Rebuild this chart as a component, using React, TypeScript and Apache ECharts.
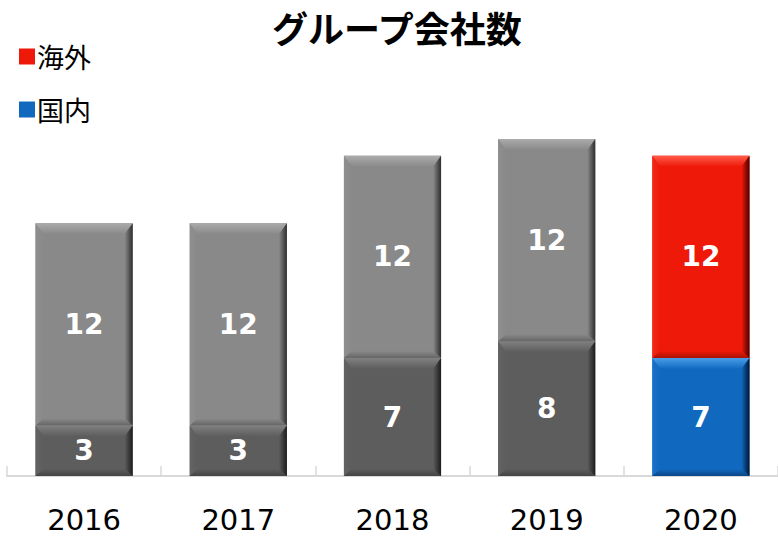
import React, { useEffect, useRef } from "react";
import * as echarts from "echarts";

const years = ["2016", "2017", "2018", "2019", "2020"];
const domestic = [3, 3, 7, 8, 7]; // 国内
const overseas = [12, 12, 12, 12, 12]; // 海外
const seriesNames = ["海外", "国内"];
const highlightIndex = 4;

type Palette = { base: string; light: string; dark: string; bottom: string; left: string };

const palGrayTop: Palette = { base: "#898989", light: "#ababab", dark: "#2e2e2e", bottom: "#666666", left: "#8f8f8f" };
const palGrayBottom: Palette = { base: "#5d5d5d", light: "#808080", dark: "#1c1c1c", bottom: "#444444", left: "#636363" };
const palRed: Palette = { base: "#ee1908", light: "#ff5a48", dark: "#4a0000", bottom: "#a81204", left: "#f02a18" };
const palBlue: Palette = { base: "#1169bf", light: "#4a9ee8", dark: "#001530", bottom: "#0a4686", left: "#1a72c8" };

function makeRender(isTop: boolean) {
  return (params: any, api: any) => {
    const idx = api.value(0);
    const base = api.value(1);
    const top = api.value(2);
    const val = api.value(3);
    const p0 = api.coord([idx, top]);
    const p1 = api.coord([idx, base]);
    const w = api.size([1, 0])[0] * 0.63;
    const x0 = p0[0] - w / 2;
    const x1 = p0[0] + w / 2;
    const y0 = p0[1];
    const y1 = p1[1];
    const pal = idx === highlightIndex ? (isTop ? palRed : palBlue) : isTop ? palGrayTop : palGrayBottom;
    const bt = 11;
    const bs = 8;
    const bb = 7;
    const lin = (x: number, y: number, x2: number, y2: number, c1: string, c2: string) => ({
      type: "linear",
      x,
      y,
      x2,
      y2,
      colorStops: [
        { offset: 0, color: c1 },
        { offset: 1, color: c2 },
      ],
    });
    return {
      type: "group",
      children: [
        { type: "rect", shape: { x: x0, y: y0, width: x1 - x0, height: y1 - y0 }, style: { fill: pal.base } },
        {
          type: "polygon",
          shape: { points: [[x0, y0], [x0 + bs, y0 + bt], [x0 + bs, y1 - bb], [x0, y1]] },
          style: { fill: lin(0, 0, 1, 0, pal.left, pal.base) },
        },
        {
          type: "polygon",
          shape: { points: [[x0, y1], [x1, y1], [x1 - bs, y1 - bb], [x0 + bs, y1 - bb]] },
          style: { fill: lin(0, 0, 0, 1, pal.base, pal.bottom) },
        },
        {
          type: "polygon",
          shape: { points: [[x0, y0], [x1, y0], [x1 - bs, y0 + bt], [x0 + bs, y0 + bt]] },
          style: { fill: lin(0, 0, 0, 1, pal.light, pal.base) },
        },
        {
          type: "polygon",
          shape: { points: [[x1, y0], [x1, y1], [x1 - bs, y1 - bb], [x1 - bs, y0 + bt]] },
          style: { fill: lin(0, 0, 1, 0, pal.base, pal.dark) },
        },
        {
          type: "text",
          x: (x0 + x1) / 2,
          y: (y0 + y1) / 2,
          style: {
            text: String(val),
            fill: "#ffffff",
            font: "bold 28px 'DejaVu Sans', Verdana, sans-serif",
            align: "center",
            verticalAlign: "middle",
          },
        },
      ],
    };
  };
}

export default function App() {
  const ref = useRef<HTMLDivElement>(null);
  useEffect(() => {
    if (!ref.current) return;
    const chart = echarts.init(ref.current, undefined, { renderer: "svg" });
    const domData = years.map((_, i) => [i, 0, domestic[i], domestic[i]]);
    const ovsData = years.map((_, i) => [i, domestic[i], domestic[i] + overseas[i], overseas[i]]);
    chart.setOption({
      animation: false,
      backgroundColor: "#ffffff",
      title: {
        text: "グループ会社数",
        left: 267,
        top: 4,
        textStyle: {
          fontFamily: "'Noto Sans CJK JP', sans-serif",
          fontWeight: "bold",
          fontSize: 36,
          color: "#000000",
        },
      },
      legend: {
        orient: "vertical",
        left: 14,
        top: 38,
        icon: "rect",
        itemWidth: 16,
        itemHeight: 16,
        itemGap: 26,
        data: [
          { name: seriesNames[0], itemStyle: { color: palRed.base } },
          { name: seriesNames[1], itemStyle: { color: palBlue.base } },
        ],
        textStyle: {
          fontFamily: "'Noto Sans CJK JP', sans-serif",
          fontSize: 27,
          color: "#000000",
          padding: [0, 0, 0, -3],
        },
      },
      grid: { left: 7, right: -3, top: 139, bottom: 61 },
      xAxis: {
        type: "category",
        data: years,
        axisLine: { lineStyle: { color: "#d9d9d9", width: 2 } },
        axisTick: { show: true, inside: true, length: 10, lineStyle: { color: "#d9d9d9", width: 1.5 } },
        axisLabel: {
          color: "#000000",
          fontSize: 29,
          lineHeight: 29,
          fontFamily: "'DejaVu Sans', Verdana, sans-serif",
          margin: 29,
        },
      },
      yAxis: {
        type: "value",
        min: 0,
        max: 20,
        show: false,
        splitLine: { show: false },
      },
      series: [
        {
          name: seriesNames[1],
          type: "custom",
          itemStyle: { color: palBlue.base },
          renderItem: makeRender(false),
          encode: { x: 0, y: [1, 2] },
          data: domData,
        },
        {
          name: seriesNames[0],
          type: "custom",
          itemStyle: { color: palRed.base },
          renderItem: makeRender(true),
          encode: { x: 0, y: [1, 2] },
          data: ovsData,
        },
      ],
    });
    return () => chart.dispose();
  }, []);
  return (
    <div
      ref={ref}
      style={{ position: "fixed", left: 0, top: 0, width: 778, height: 537, background: "#fff" }}
    />
  );
}
